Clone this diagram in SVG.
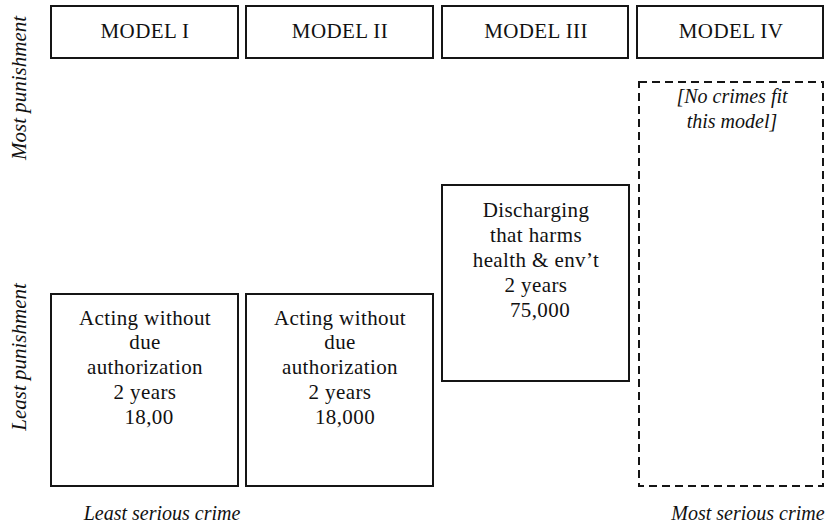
<svg xmlns="http://www.w3.org/2000/svg" width="826" height="529" viewBox="0 0 826 529">
<style>
.box{fill:#fff;stroke:#151515;stroke-width:2}
.dash{fill:none;stroke:#151515;stroke-width:2;stroke-dasharray:8 5}
text{font-family:"Liberation Serif","Times New Roman",serif;font-size:21px;fill:#111;text-anchor:middle;letter-spacing:0.4px}
.it{font-style:italic;font-size:20px;letter-spacing:0}
.side{font-style:italic;font-size:21px;letter-spacing:0}
</style>
<rect width="826" height="529" fill="#fff"/>
<g id="model1"><rect class="box" x="51" y="6" width="187" height="52"/><text x="145" y="38">MODEL I</text></g>
<g id="model2"><rect class="box" x="246" y="6" width="187" height="52"/><text x="340" y="38">MODEL II</text></g>
<g id="model3"><rect class="box" x="442" y="6" width="186" height="52"/><text x="536" y="38">MODEL III</text></g>
<g id="model4"><rect class="box" x="637" y="6" width="186" height="52"/><text x="731" y="38">MODEL IV</text></g>
<g id="crime1"><rect class="box" x="51" y="294" width="187" height="192"/>
<text x="145" y="325">Acting without</text><text x="145" y="349">due</text><text x="145" y="374">authorization</text><text x="145" y="399">2 years</text><text x="149" y="424">18,00</text></g>
<g id="crime2"><rect class="box" x="246" y="294" width="187" height="192"/>
<text x="340" y="325">Acting without</text><text x="340" y="349">due</text><text x="340" y="374">authorization</text><text x="340" y="399">2 years</text><text x="345" y="424">18,000</text></g>
<g id="crime3"><rect class="box" x="442" y="185" width="187" height="196"/>
<text x="536" y="217">Discharging</text><text x="536" y="242">that harms</text><text x="536" y="267">health &amp; env’t</text><text x="536" y="292">2 years</text><text x="540" y="317">75,000</text></g>
<g id="crime4"><rect class="dash" x="639" y="82" width="184" height="404"/>
<text class="it" x="732" y="103">[No crimes fit</text><text class="it" x="732" y="128">this model]</text></g>
<g id="axes">
<text class="side" transform="translate(26,88) rotate(-90)">Most punishment</text>
<text class="side" transform="translate(26,357) rotate(-90)">Least punishment</text>
<text class="it" x="162" y="520">Least serious crime</text>
<text class="it" x="748" y="520">Most serious crime</text>
</g>
<g id="connectors"></g>
</svg>
